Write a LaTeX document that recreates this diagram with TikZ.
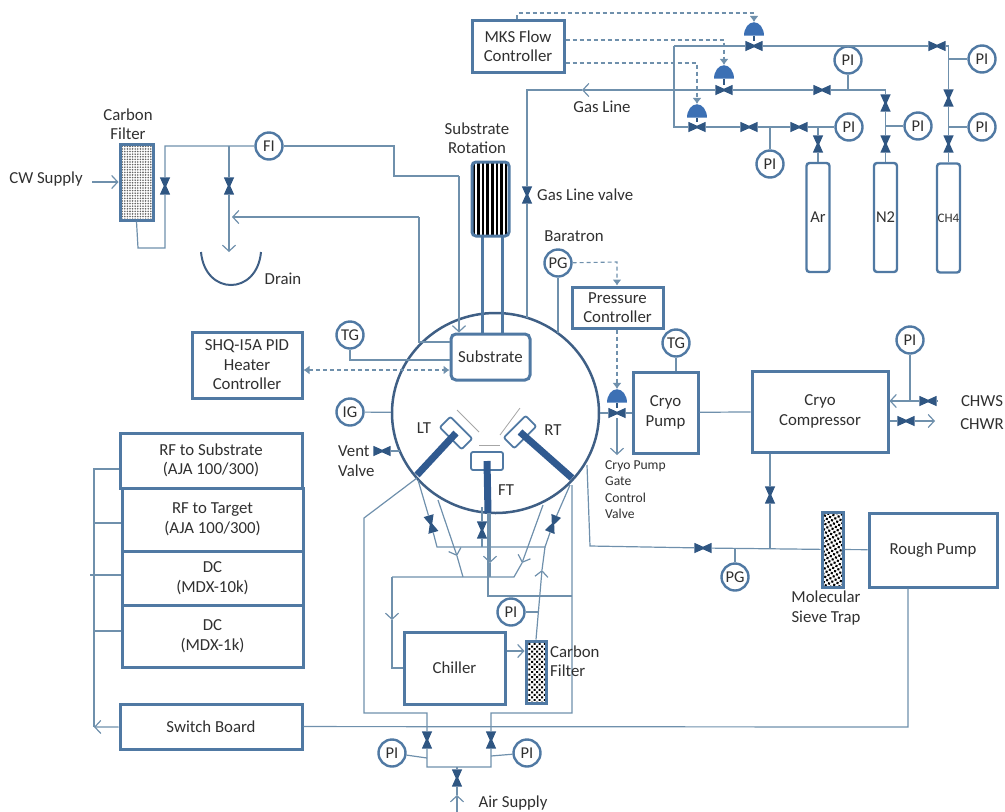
\documentclass[tikz,border=0pt]{standalone}
\usepackage{fontspec}
\setmainfont{Carlito}
\usepackage{tikz}
\usetikzlibrary{shapes.geometric, arrows.meta, patterns.meta, calc}
\definecolor{pipecol}{HTML}{6F90AC}
\definecolor{boxcol}{HTML}{5079A3}
\definecolor{valvecol}{HTML}{2F5682}
\definecolor{domecol}{HTML}{3C70B4}
\definecolor{wallcol}{HTML}{3F5F85}
\definecolor{textcol}{HTML}{303030}
\tikzset{
  barb/.tip={Straight Barb[length=6pt,width=13pt]},
  sigtip/.tip={Latex[length=6pt,width=9pt]},
  pipe/.style={draw=pipecol, line width=1.2pt},
  signal/.style={draw=pipecol, line width=1.1pt, dash pattern=on 4pt off 3pt, -sigtip},
  unit/.style 2 args={draw=boxcol, line width=3pt, fill=white, align=center, inner sep=0pt,
    minimum width=#1, minimum height=#2, text=textcol, font=\fontsize{16.8}{19.5}\selectfont},
  gauge/.style={circle, draw=boxcol, line width=2.4pt, fill=white, inner sep=0pt, minimum size=27pt,
    text=textcol, font=\fontsize{16.5}{17}\selectfont},
  valve/.style={inner sep=0pt, minimum width=17pt, minimum height=10pt,
    append after command={\pgfextra{\fill[valvecol] (\tikzlastnode.north west)
      -- ($(\tikzlastnode.center)!0.25!(\tikzlastnode.north)$) -- (\tikzlastnode.north east) -- (\tikzlastnode.south east)
      -- ($(\tikzlastnode.center)!0.25!(\tikzlastnode.south)$) -- (\tikzlastnode.south west) -- cycle;}}},
  dome/.style={semicircle, fill=domecol, inner sep=0pt, minimum width=20pt, yscale=1.35, anchor=chord center},
  bottle/.style={draw=boxcol, line width=2.4pt, rounded corners=3pt, inner sep=0pt, minimum width=23pt,
    minimum height=109pt, text=textcol, font=\fontsize{16.5}{17}\selectfont},
  filter/.style={draw=boxcol, line width=3pt, inner sep=0pt},
  holder/.style={draw=boxcol, line width=1.8pt, fill=white, rounded corners=2pt, inner sep=0pt,
    minimum width=31pt, minimum height=15pt},
  rod/.style={draw=domecol!80!black, line width=7pt},
  shutter/.style={draw=gray!70, line width=0.8pt},
  lbl/.style={text=textcol, align=center, inner sep=0pt, font=\fontsize{16.8}{19.5}\selectfont},
  lbls/.style={lbl, align=left, font=\fontsize{13.6}{16.5}\selectfont}
}
\begin{document}
\begin{tikzpicture}[x=1pt, y=-1pt]
  \useasboundingbox (0,0) rectangle (1005,812);
  % units
  \node[unit={92pt}{52pt}] (mks) at (518,46) {MKS Flow\\Controller};
  \node[unit={91pt}{41pt}] (press) at (617.5,307.5) {Pressure\\Controller};
  \node[unit={65pt}{81pt}] (cryo) at (665.5,412.5) {Cryo\\Pump};
  \node[unit={136pt}{81pt}] (compr) at (820,411.5) {Cryo\\Compressor};
  \node[unit={128pt}{74pt}] (rough) at (933,550) {Rough Pump};
  \node[unit={101pt}{72pt}] (chiller) at (454.5,668) {Chiller};
  \node[unit={110pt}{66pt}] (heater) at (247,365) {SHQ-I5A PID\\Heater\\Controller};
  \node[unit={182pt}{45pt}] (board) at (211,726.5) {Switch Board};
  \node[unit={182pt}{55pt}] (rfSub) at (211,460.5) {RF to Substrate\\(AJA 100/300)};
  \node[unit={181pt}{63pt}] (rfTar) at (212.5,519.5) {RF to Target\\(AJA 100/300)};
  \node[unit={181pt}{54pt}] (dcTen) at (212.5,578) {DC\\(MDX-10k)};
  \node[unit={181pt}{62pt}] (dcOne) at (212.5,636) {DC\\(MDX-1k)};
  % chamber
  \node[ellipse, draw=wallcol, line width=2.5pt, inner sep=0pt, minimum width=207pt, minimum height=200pt] (chamber) at (495.5,413) {};
  \node[unit={79pt}{46pt}, rounded corners=5pt] (substrate) at (490.5,357) {Substrate};
  \node[filter, rounded corners=4pt, minimum width=37pt, minimum height=74pt,
    pattern={Lines[angle=90,distance=4.6pt,line width=2.6pt]}, pattern color=black] (rotor) at (490.5,199) {};
  \node[holder, rotate=-45] (holderL) at (456,433) {};
  \node[holder, rotate=45] (holderR) at (520,432) {};
  \node[holder, minimum width=32pt, minimum height=18pt] (holderF) at (487,461) {};
  % filters
  \node[filter, minimum width=33pt, minimum height=76pt,
    pattern={Dots[distance=2.6pt,radius=0.9pt]}, pattern color=black!60] (cwFilter) at (136.5,182) {};
  \node[filter, minimum width=20pt, minimum height=62pt,
    pattern={Dots[distance=3.6pt,radius=1.4pt,angle=45]}, pattern color=black] (chFilter) at (536,672) {};
  \node[filter, minimum width=21pt, minimum height=75pt,
    pattern={Dots[distance=3.8pt,radius=1.5pt,angle=30]}, pattern color=black] (sieve) at (832.5,549.5) {};
  % bottles
  \node[bottle] (ar) at (818,217.5) {Ar};
  \node[bottle] (nitro) at (885.5,217.5) {N2};
  \node[bottle, font=\fontsize{13}{14}\selectfont] (methane) at (948.5,218) {CH4};
  % gauges
  \foreach \nm/\x/\y/\txt in {piTop/848/60/PI, piRightTop/982/59/PI, piAr/849/127/PI, piNitro/918/126/PI,
      piRightLow/982/127/PI, piBranch/770/164/PI, fi/269/146/FI, tgSub/350/335/TG, ig/350/412/IG,
      pgBara/558/263/PG, tgCryo/676/343/TG, piCompr/910/340/PI, pgRough/735/577/PG, piChill/511/612/PI,
      piAirL/392/753/PI, piAirR/527/753/PI}
    \node[gauge] (\nm) at (\x,\y) {\txt};
  % valves
  \foreach \nm/\x/\y in {vTop/754/46, vTopRight/937/46, vMidA/724/90, vMidB/822/90, vLowA/697/127, vLowB/749/127,
      vLowC/799/127, vGate/617/413, vChws/928/401, vChwr/906/421, vVent/382/451, vRough/703/548}
    \node[valve] (\nm) at (\x,\y) {};
  \foreach \nm/\x/\y in {vNitroUp/885.5/103, vNitro/885.5/144, vMethUp/948.5/98, vMeth/948.5/144, vAr/818/144, vGas/527/195,
      vCw/165/186, vDrain/229/186, vCompr/770/495, vFront/482/530, vAirL/427/740, vAirR/491/740, vAir/457/778}
    \node[valve, rotate=90] (\nm) at (\x,\y) {};
  \node[valve, rotate=-74] (vLeft) at (431,524) {};
  \node[valve, rotate=68] (vRight) at (553,524) {};
  % actuators
  \node[dome] (domeA) at (754,36) {};
  \node[dome] (domeB) at (724,79) {};
  \node[dome] (domeC) at (697,118) {};
  \node[dome] (domeD) at (617,403) {};
  \foreach \top/\low in {domeA/vTop, domeB/vMidA, domeC/vLowA, domeD/vGate}
    \draw[draw=valvecol, line width=1.2pt] (\top.chord center) -- (\low);
  % control signals
  \coordinate (sigA) at (517,13);
  \coordinate (sigB) at (724,40);
  \coordinate (sigC) at (697,63);
  \coordinate (sigD) at (617,262);
  \coordinate (sigE) at (400,370);
  \draw[signal] (mks.north -| sigA) -- (sigA) -| (domeA.apex);
  \draw[signal] (mks.east |- sigB) -- (sigB) -- (domeB.apex);
  \draw[signal] (mks.east |- sigC) -- (sigC) -- (domeC.apex);
  \draw[signal] (pgBara) -- (sigD) -- (press.north -| sigD);
  \draw[signal] (press.south -| domeD) -- (domeD.apex);
  \draw[signal, sigtip-sigtip] (heater.east |- sigE) -- (substrate.west |- sigE);
  % gas panel
  \coordinate (topLeft) at (674,46);
  \coordinate (lowLeft) at (674,127);
  \coordinate (topRight) at (948.5,46);
  \coordinate (gasRight) at (885.5,90);
  \coordinate (gasTip) at (582,90);
  \coordinate (gasTurn) at (527,90);
  \coordinate (gasFoot) at (527,318);
  \draw[pipe] (topLeft) -- (vTop) -- (vTopRight) -- (topRight) -- (vMethUp) -- (vMeth) -- (methane);
  \draw[pipe] (topLeft) -- (lowLeft) -- (vLowA) -- (vLowB) -- (vLowC) -- (piAr);
  \draw[pipe] (vAr |- piAr) -- (vAr) -- (ar);
  \draw[pipe] (piBranch) -- (piBranch |- piAr);
  \draw[pipe] (piTop) -- (piTop |- gasRight);
  \draw[pipe] (vNitro) -- (nitro);
  \draw[pipe] (vNitro) -- (vNitroUp) -- (gasRight) -- (vMidB) -- (vMidA);
  \draw[pipe, -barb] (vMidA) -- (gasTip);
  \draw[pipe] (gasTip) -- (gasTurn) -- (vGas) -- (gasFoot);
  \draw[pipe] (piNitro) -- (piNitro -| vNitro);
  \draw[pipe] (piRightTop) -- (piRightTop -| vMethUp);
  \draw[pipe] (piRightLow) -- (piRightLow -| vMeth);
  % cooling water supply
  \coordinate (cwStart) at (92,182);
  \coordinate (cwLowA) at (138,248);
  \coordinate (cwLowB) at (165,248);
  \coordinate (cwTop) at (165,146);
  \coordinate (drainTip) at (229,252);
  \coordinate (fiKneeA) at (394,146);
  \coordinate (fiKneeB) at (394,176);
  \coordinate (fiKneeC) at (459,176);
  \coordinate (backA) at (419,342);
  \coordinate (backB) at (419,217);
  \coordinate (backTip) at (232,217);
  \coordinate (tgKnee) at (350,360);
  \draw[pipe, -barb] (cwStart) -- (cwFilter.west |- cwStart);
  \draw[pipe] (cwFilter.south) -- (cwLowA) -- (cwLowB) -- (vCw) -- (cwTop) -- (fi);
  \draw[pipe] (vDrain |- cwTop) -- (vDrain);
  \draw[pipe, -barb] (vDrain) -- (drainTip);
  \draw[pipe] (fi) -- (fiKneeA) -- (fiKneeB) -- (fiKneeC);
  \draw[pipe, -barb] (fiKneeC) -- (substrate.north -| fiKneeC);
  \draw[pipe] (substrate.west |- backA) -- (backA) -- (backB);
  \draw[pipe, -barb] (backB) -- (backTip);
  \draw[wallcol, line width=2pt] (201,252) .. controls (205,296) and (257,296) .. (261,252);
  \draw[pipe] (tgSub) -- (tgKnee) -- (substrate.west |- tgKnee);
  \draw[pipe] (ig) -- (chamber);
  \coordinate (ventFoot) at (400,451);
  \draw[pipe] (vVent) -- (ventFoot);
  % substrate rotation
  \draw[boxcol, line width=3pt] ([xshift=-8.5pt]rotor.south) -- ([xshift=-8.5pt]rotor.south |- substrate.north);
  \draw[boxcol, line width=3pt] ([xshift=11.5pt]rotor.south) -- ([xshift=11.5pt]rotor.south |- substrate.north);
  % targets
  \coordinate (footL) at (417,475);
  \coordinate (footR) at (572,478);
  \coordinate (footF) at (488,513);
  \draw[rod] (footL) -- (holderL.center);
  \draw[rod] (footR) -- (holderR.center);
  \draw[rod] (footF) -- (holderF.center);
  \draw[shutter] (457,410) -- (479,432);
  \draw[shutter] (520,408) -- (500,435);
  \draw[shutter] (479,445) -- (500,445);
  % target cooling
  \coordinate (feedL) at (418,480);
  \coordinate (feedF) at (482,507);
  \coordinate (feedR) at (570,485);
  \coordinate (headL) at (437,547);
  \coordinate (headF) at (482,547);
  \coordinate (headR) at (545,547);
  \coordinate (upTip) at (542,570);
  \draw[pipe] (feedL) -- (vLeft) -- (headL) -- (headR) -- (vRight) -- (feedR);
  \draw[pipe] (feedF) -- (vFront) -- (headF);
  \draw[pipe, -barb] (chFilter.north) -- (upTip);
  \draw[pipe] (upTip) -- (headR);
  \draw[pipe] (piChill) -- (538,612);
  \coordinate (retAs) at (438,500);
  \coordinate (retAm) at (457,556);
  \coordinate (retAe) at (463,577);
  \coordinate (retBs) at (490,513);
  \coordinate (retBm) at (490,563);
  \coordinate (retBe) at (490,577);
  \coordinate (retCs) at (543,505);
  \coordinate (retCm) at (522,563);
  \coordinate (retCe) at (514,577);
  \coordinate (retTurn) at (392,577);
  \coordinate (retTip) at (392,620);
  \coordinate (retLow) at (392,668);
  \draw[pipe, -barb] (retAs) -- (retAm);
  \draw[pipe] (retAm) -- (retAe);
  \draw[pipe, -barb] (retBs) -- (retBm);
  \draw[pipe] (retBm) -- (retBe);
  \draw[pipe, -barb] (retCs) -- (retCm);
  \draw[pipe] (retCm) -- (retCe) -- (retTurn);
  \draw[pipe, -barb] (retTurn) -- (retTip);
  \draw[pipe] (retTip) -- (retLow) -- (chiller.west);
  \coordinate (chOut) at (505,651);
  \draw[pipe, -barb] (chiller.east |- chOut) -- (chFilter.west |- chOut);
  % compressed air
  \coordinate (airA) at (488,513);
  \coordinate (airB) at (488,596);
  \coordinate (airC) at (572,596);
  \coordinate (airD) at (572,485);
  \coordinate (airE) at (572,713);
  \coordinate (airF) at (491,713);
  \coordinate (airG) at (491,767);
  \coordinate (airH) at (427,767);
  \coordinate (airI) at (427,713);
  \coordinate (airJ) at (364,713);
  \coordinate (airK) at (364,518);
  \coordinate (airL) at (417,478);
  \coordinate (airBot) at (457,767);
  \coordinate (airTip) at (457,795);
  \coordinate (airIn) at (457,812);
  \draw[pipe] (airA) -- (airB) -- (airC);
  \draw[pipe] (airD) -- (airE) -- (airF) -- (vAirR) -- (airG) -- (airH) -- (vAirL) -- (airI) -- (airJ) -- (airK) -- (airL);
  \draw[pipe] (piAirL) -- (427,758);
  \draw[pipe] (piAirR) -- (491,756);
  \draw[pipe] (airBot) -- (vAir) -- (airTip);
  \draw[pipe, -barb] (airIn) -- (airTip);
  % vacuum
  \coordinate (gateIn) at (600,413);
  \coordinate (gateTip) at (617,455);
  \coordinate (foreA) at (587,465);
  \coordinate (foreB) at (590,546);
  \coordinate (roughDrop) at (908,727);
  \draw[pipe] (pgBara) -- (558,333);
  \draw[pipe] (gateIn) -- (vGate) -- (cryo.west |- vGate);
  \draw[pipe, -barb] (vGate) -- (gateTip);
  \draw[pipe] (tgCryo) -- (tgCryo |- cryo.north);
  \draw[pipe] (cryo) -- (compr);
  \draw[pipe] (compr.south -| vCompr) -- (vCompr) -- (vCompr |- vRough);
  \draw[pipe] (foreA) -- (foreB) -- (vRough) -- (sieve) -- (rough);
  \draw[pipe] (pgRough) -- (pgRough |- vRough);
  \draw[pipe] (rough.south -| roughDrop) -- (roughDrop) -- (board);
  % chilled water
  \coordinate (chwsEnd) at (938,401);
  \coordinate (chwrEnd) at (935,421);
  \draw[pipe] (chwsEnd) -- (vChws);
  \draw[pipe, -barb] (vChws) -- (compr.east |- vChws);
  \draw[pipe] (piCompr) -- (piCompr |- vChws);
  \draw[pipe] (compr.east |- vChwr) -- (vChwr);
  \draw[pipe, -barb] (vChwr) -- (chwrEnd);
  % power bus
  \coordinate (busTop) at (94,469);
  \coordinate (busB) at (94,523);
  \coordinate (busC) at (90,575);
  \coordinate (busD) at (94,631);
  \coordinate (busTip) at (94,727);
  \draw[pipe, -barb] (board) -- (busTip);
  \draw[pipe] (rfSub.west |- busTop) -- (busTop) -- (busTip);
  \draw[pipe] (rfTar.west |- busB) -- (busB);
  \draw[pipe] (dcTen.west |- busC) -- (busC);
  \draw[pipe] (dcOne.west |- busD) -- (busD);
  % labels
  \node[lbl] (lblCarbon) at (128,124) {Carbon\\Filter};
  \node[lbl] (lblCw) at (46,179) {CW Supply};
  \node[lbl] (lblDrain) at (283,279) {Drain};
  \node[lbl] (lblRotation) at (477,138) {Substrate\\Rotation};
  \node[lbl] (lblGasLine) at (602,107) {Gas Line};
  \node[lbl, anchor=west] (lblGasValve) at (537,195) {Gas Line valve};
  \node[lbl] (lblBaratron) at (574,236) {Baratron};
  \node[lbl, align=left, anchor=west] (lblVent) at (338,461) {Vent\\Valve};
  \node[lbl] (lblLt) at (424,428) {LT};
  \node[lbl] (lblRt) at (553,430) {RT};
  \node[lbl] (lblFt) at (506,490) {FT};
  \node[lbls, anchor=north west] (lblGate) at (605,460) {Cryo Pump\\Gate\\Control\\Valve};
  \node[lbl] (lblChws) at (982,401) {CHWS};
  \node[lbl] (lblChwr) at (982,424) {CHWR};
  \node[lbl] (lblSieve) at (826,608) {Molecular\\Sieve Trap};
  \node[lbl, align=left, anchor=west] (lblCarbonB) at (550,661) {Carbon\\Filter};
  \node[lbl] (lblAir) at (513,803) {Air Supply};
\end{tikzpicture}
\end{document}
